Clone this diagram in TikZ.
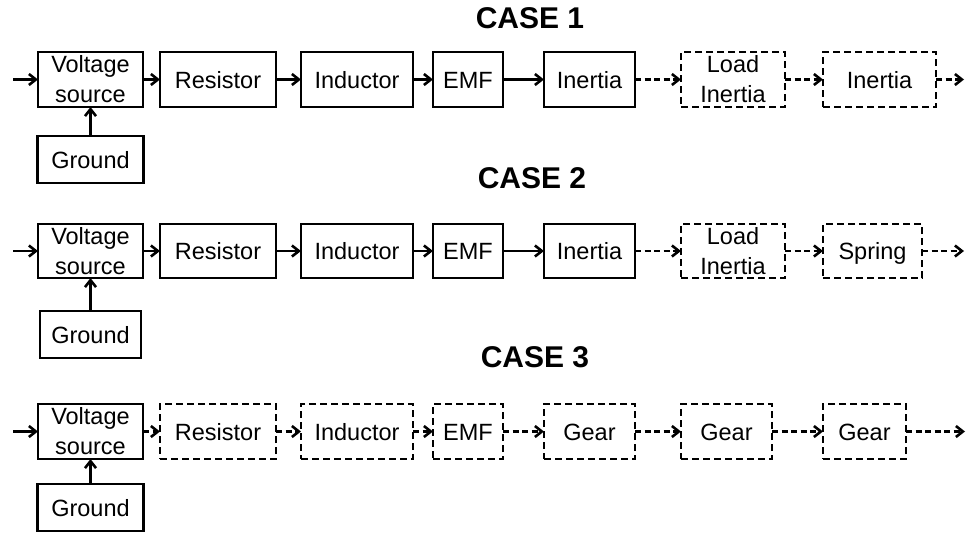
\documentclass[tikz,border=0pt]{standalone}
\usepackage{fontspec}
\setmainfont{Liberation Sans}
\usetikzlibrary{arrows.meta}
\begin{document}
\begin{tikzpicture}[x=1pt,y=-1pt,
  box/.style={draw, line width=2.6pt, rectangle, inner sep=0pt, outer sep=0pt, align=center,
    font=\fontsize{23.5}{30}\selectfont},
  one/.style={text height=17pt, text depth=0pt},
  dbox/.style={box, dash pattern=on 7pt off 4pt},
  arr/.style={line width=2.6pt, -{Straight Barb[length=7pt,width=11pt,line width=2.6pt]}},
  darr/.style={arr, dash pattern=on 6pt off 3.5pt},
  title/.style={font=\fontsize{30}{30}\selectfont\bfseries}]
\useasboundingbox (0,0) rectangle (966,533);

% ---------- CASE 1 ----------
\node[title] (t1) at (530,18) {CASE 1};
\node[box, minimum width=105pt, minimum height=55pt] (vs1) at (90.5,79.5) {Voltage\\source};
\node[box, one, minimum width=106pt, minimum height=47pt] (gnd1) at (90.5,159.5) {Ground};
\node[box, one, minimum width=116pt, minimum height=55pt] (res1) at (218,79.5) {Resistor};
\node[box, one, minimum width=112pt, minimum height=55pt] (ind1) at (357,79.5) {Inductor};
\node[box, one, minimum width=70pt, minimum height=55pt] (emf1) at (468,79.5) {EMF};
\node[box, one, minimum width=91pt, minimum height=55pt] (ine1) at (589.5,79.5) {Inertia};
\node[dbox, minimum width=104pt, minimum height=55pt] (load1) at (733,79.5) {Load\\Inertia};
\node[dbox, one, minimum width=113pt, minimum height=55pt] (ine1b) at (879.5,79.5) {Inertia};
\coordinate (in1) at (13,79.5);
\coordinate (out1) at (964,79.5);
\draw[arr] (in1) -- (vs1);
\draw[arr] (gnd1) -- (vs1);
\draw[arr] (vs1) -- (res1);
\draw[arr] (res1) -- (ind1);
\draw[arr] (ind1) -- (emf1);
\draw[arr] (emf1) -- (ine1);
\draw[darr] (ine1) -- (load1);
\draw[darr] (load1) -- (ine1b);
\draw[darr] (ine1b) -- (out1);

% ---------- CASE 2 ----------
\node[title] (t2) at (532,178) {CASE 2};
\node[box, minimum width=105pt, minimum height=54pt] (vs2) at (90.5,251) {Voltage\\source};
\node[box, one, minimum width=101pt, minimum height=47pt] (gnd2) at (90.5,334.5) {Ground};
\node[box, one, minimum width=116pt, minimum height=54pt] (res2) at (218,251) {Resistor};
\node[box, one, minimum width=112pt, minimum height=54pt] (ind2) at (357,251) {Inductor};
\node[box, one, minimum width=70pt, minimum height=54pt] (emf2) at (468,251) {EMF};
\node[box, one, minimum width=91pt, minimum height=54pt] (ine2) at (589.5,251) {Inertia};
\node[dbox, minimum width=104pt, minimum height=54pt] (load2) at (733,251) {Load\\Inertia};
\node[dbox, one, minimum width=99pt, minimum height=54pt] (spr2) at (872.5,251) {Spring};
\coordinate (in2) at (13,251);
\coordinate (out2) at (964,251);
\draw[arr] (in2) -- (vs2);
\draw[arr] (gnd2) -- (vs2);
\draw[arr] (vs2) -- (res2);
\draw[arr] (res2) -- (ind2);
\draw[arr] (ind2) -- (emf2);
\draw[arr] (emf2) -- (ine2);
\draw[darr] (ine2) -- (load2);
\draw[darr] (load2) -- (spr2);
\draw[darr] (spr2) -- (out2);

% ---------- CASE 3 ----------
\node[title] (t3) at (535,357) {CASE 3};
\node[box, minimum width=105pt, minimum height=55pt] (vs3) at (90.5,431.5) {Voltage\\source};
\node[box, one, minimum width=106pt, minimum height=47pt] (gnd3) at (90.5,507.5) {Ground};
\node[dbox, one, minimum width=116pt, minimum height=55pt] (res3) at (218,431.5) {Resistor};
\node[dbox, one, minimum width=112pt, minimum height=55pt] (ind3) at (357,431.5) {Inductor};
\node[dbox, one, minimum width=70pt, minimum height=55pt] (emf3) at (468,431.5) {EMF};
\node[dbox, one, minimum width=91pt, minimum height=55pt] (gear3a) at (589.5,431.5) {Gear};
\node[dbox, one, minimum width=91pt, minimum height=55pt] (gear3b) at (726.5,431.5) {Gear};
\node[dbox, one, minimum width=83pt, minimum height=55pt] (gear3c) at (864.5,431.5) {Gear};
\coordinate (in3) at (13,431.5);
\coordinate (out3) at (965,431.5);
\draw[arr] (in3) -- (vs3);
\draw[arr] (gnd3) -- (vs3);
\draw[darr] (vs3) -- (res3);
\draw[darr] (res3) -- (ind3);
\draw[darr] (ind3) -- (emf3);
\draw[darr] (emf3) -- (gear3a);
\draw[darr] (gear3a) -- (gear3b);
\draw[darr] (gear3b) -- (gear3c);
\draw[darr] (gear3c) -- (out3);
\end{tikzpicture}
\end{document}
